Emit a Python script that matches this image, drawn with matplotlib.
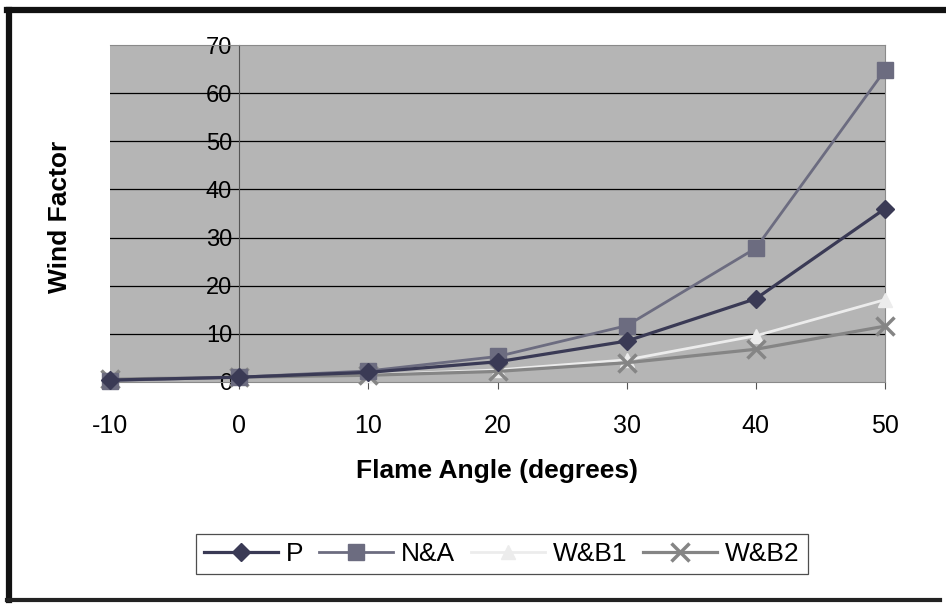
import matplotlib.pyplot as plt
from matplotlib.lines import Line2D

plt.rcParams['font.family'] = ['Liberation Sans', 'DejaVu Sans']
plt.rcParams['axes.unicode_minus'] = False

# data
flame_angle = [-10, 0, 10, 20, 30, 40, 50]
p_vals = [0.4, 1.0, 2.0, 4.2, 8.5, 17.3, 36.0]
na_vals = [0.3, 1.0, 2.3, 5.3, 11.7, 27.8, 64.8]
wb1_vals = [0.6, 1.0, 1.5, 2.5, 4.6, 9.6, 17.1]
wb2_vals = [0.6, 1.0, 1.4, 2.2, 4.0, 6.8, 11.6]
y_ticks = [0, 10, 20, 30, 40, 50, 60, 70]
x_ticks = [-10, 0, 10, 20, 30, 40, 50]

fig = plt.figure(figsize=(9.46, 6.05), dpi=100)
ax = fig.add_axes([110/946, 1 - 382/605, 775/946, 337/605])
ax.set_facecolor('#b5b5b5')

ax.plot(flame_angle, p_vals, color='#3a3a55', lw=2.3, marker='D', ms=9,
        label='P', clip_on=False, zorder=5)
ax.plot(flame_angle, na_vals, color='#6c6c80', lw=2.0, marker='s', ms=12,
        label='N&A', clip_on=False, zorder=4)
ax.plot(flame_angle, wb1_vals, color='#ececec', lw=2.0, marker='^', ms=10,
        label='W&B1', clip_on=False, zorder=3)
ax.plot(flame_angle, wb2_vals, color='#858585', lw=2.3, marker='x', ms=13, mew=2.5,
        label='W&B2', clip_on=False, zorder=3)

ax.set_xlim(-10, 50)
ax.set_ylim(0, 70)
ax.set_xticks(x_ticks)
ax.set_yticks(y_ticks)

# horizontal gridlines only
for yv in y_ticks[1:-1]:
    ax.axhline(yv, color='black', lw=0.9, zorder=1)

for s in ['top', 'right']:
    ax.spines[s].set_color('#8a8a8a')
ax.spines['left'].set_position(('data', 0))
ax.spines['left'].set_color('#555555')
ax.spines['bottom'].set_color('#8a8a8a')

ax.tick_params(axis='x', labelsize=18, length=5, color='#555555', pad=18)
ax.tick_params(axis='y', labelsize=17, length=0, pad=5)
for lbl in ax.get_yticklabels():
    lbl.set_zorder(6)

ax.set_xlabel('Flame Angle (degrees)', fontsize=19, fontweight='bold', labelpad=15)
ax.set_ylabel('Wind Factor', fontsize=19, fontweight='bold', labelpad=0)
ax.yaxis.set_label_coords(-38/775, 0.49)

leg = ax.legend(loc='center', bbox_to_anchor=(502/946, 1 - 554/605),
                bbox_transform=fig.transFigure, ncol=4, fontsize=19,
                frameon=True, fancybox=False, edgecolor='#222222',
                handlelength=2.8, handletextpad=0.3, columnspacing=0.6,
                borderpad=0.3)
leg.get_frame().set_linewidth(0.9)

# outer frame
fig.add_artist(Line2D([9/946, 9/946], [1 - 600/605, 1 - 10/605], color='#111111', lw=4.5))
fig.add_artist(Line2D([7/946, 1.0], [1 - 10/605, 1 - 10/605], color='#111111', lw=4.5))
fig.add_artist(Line2D([7/946, 940/946], [1 - 600/605, 1 - 600/605], color='#222222', lw=3))

fig.savefig('out.png', dpi=100)
